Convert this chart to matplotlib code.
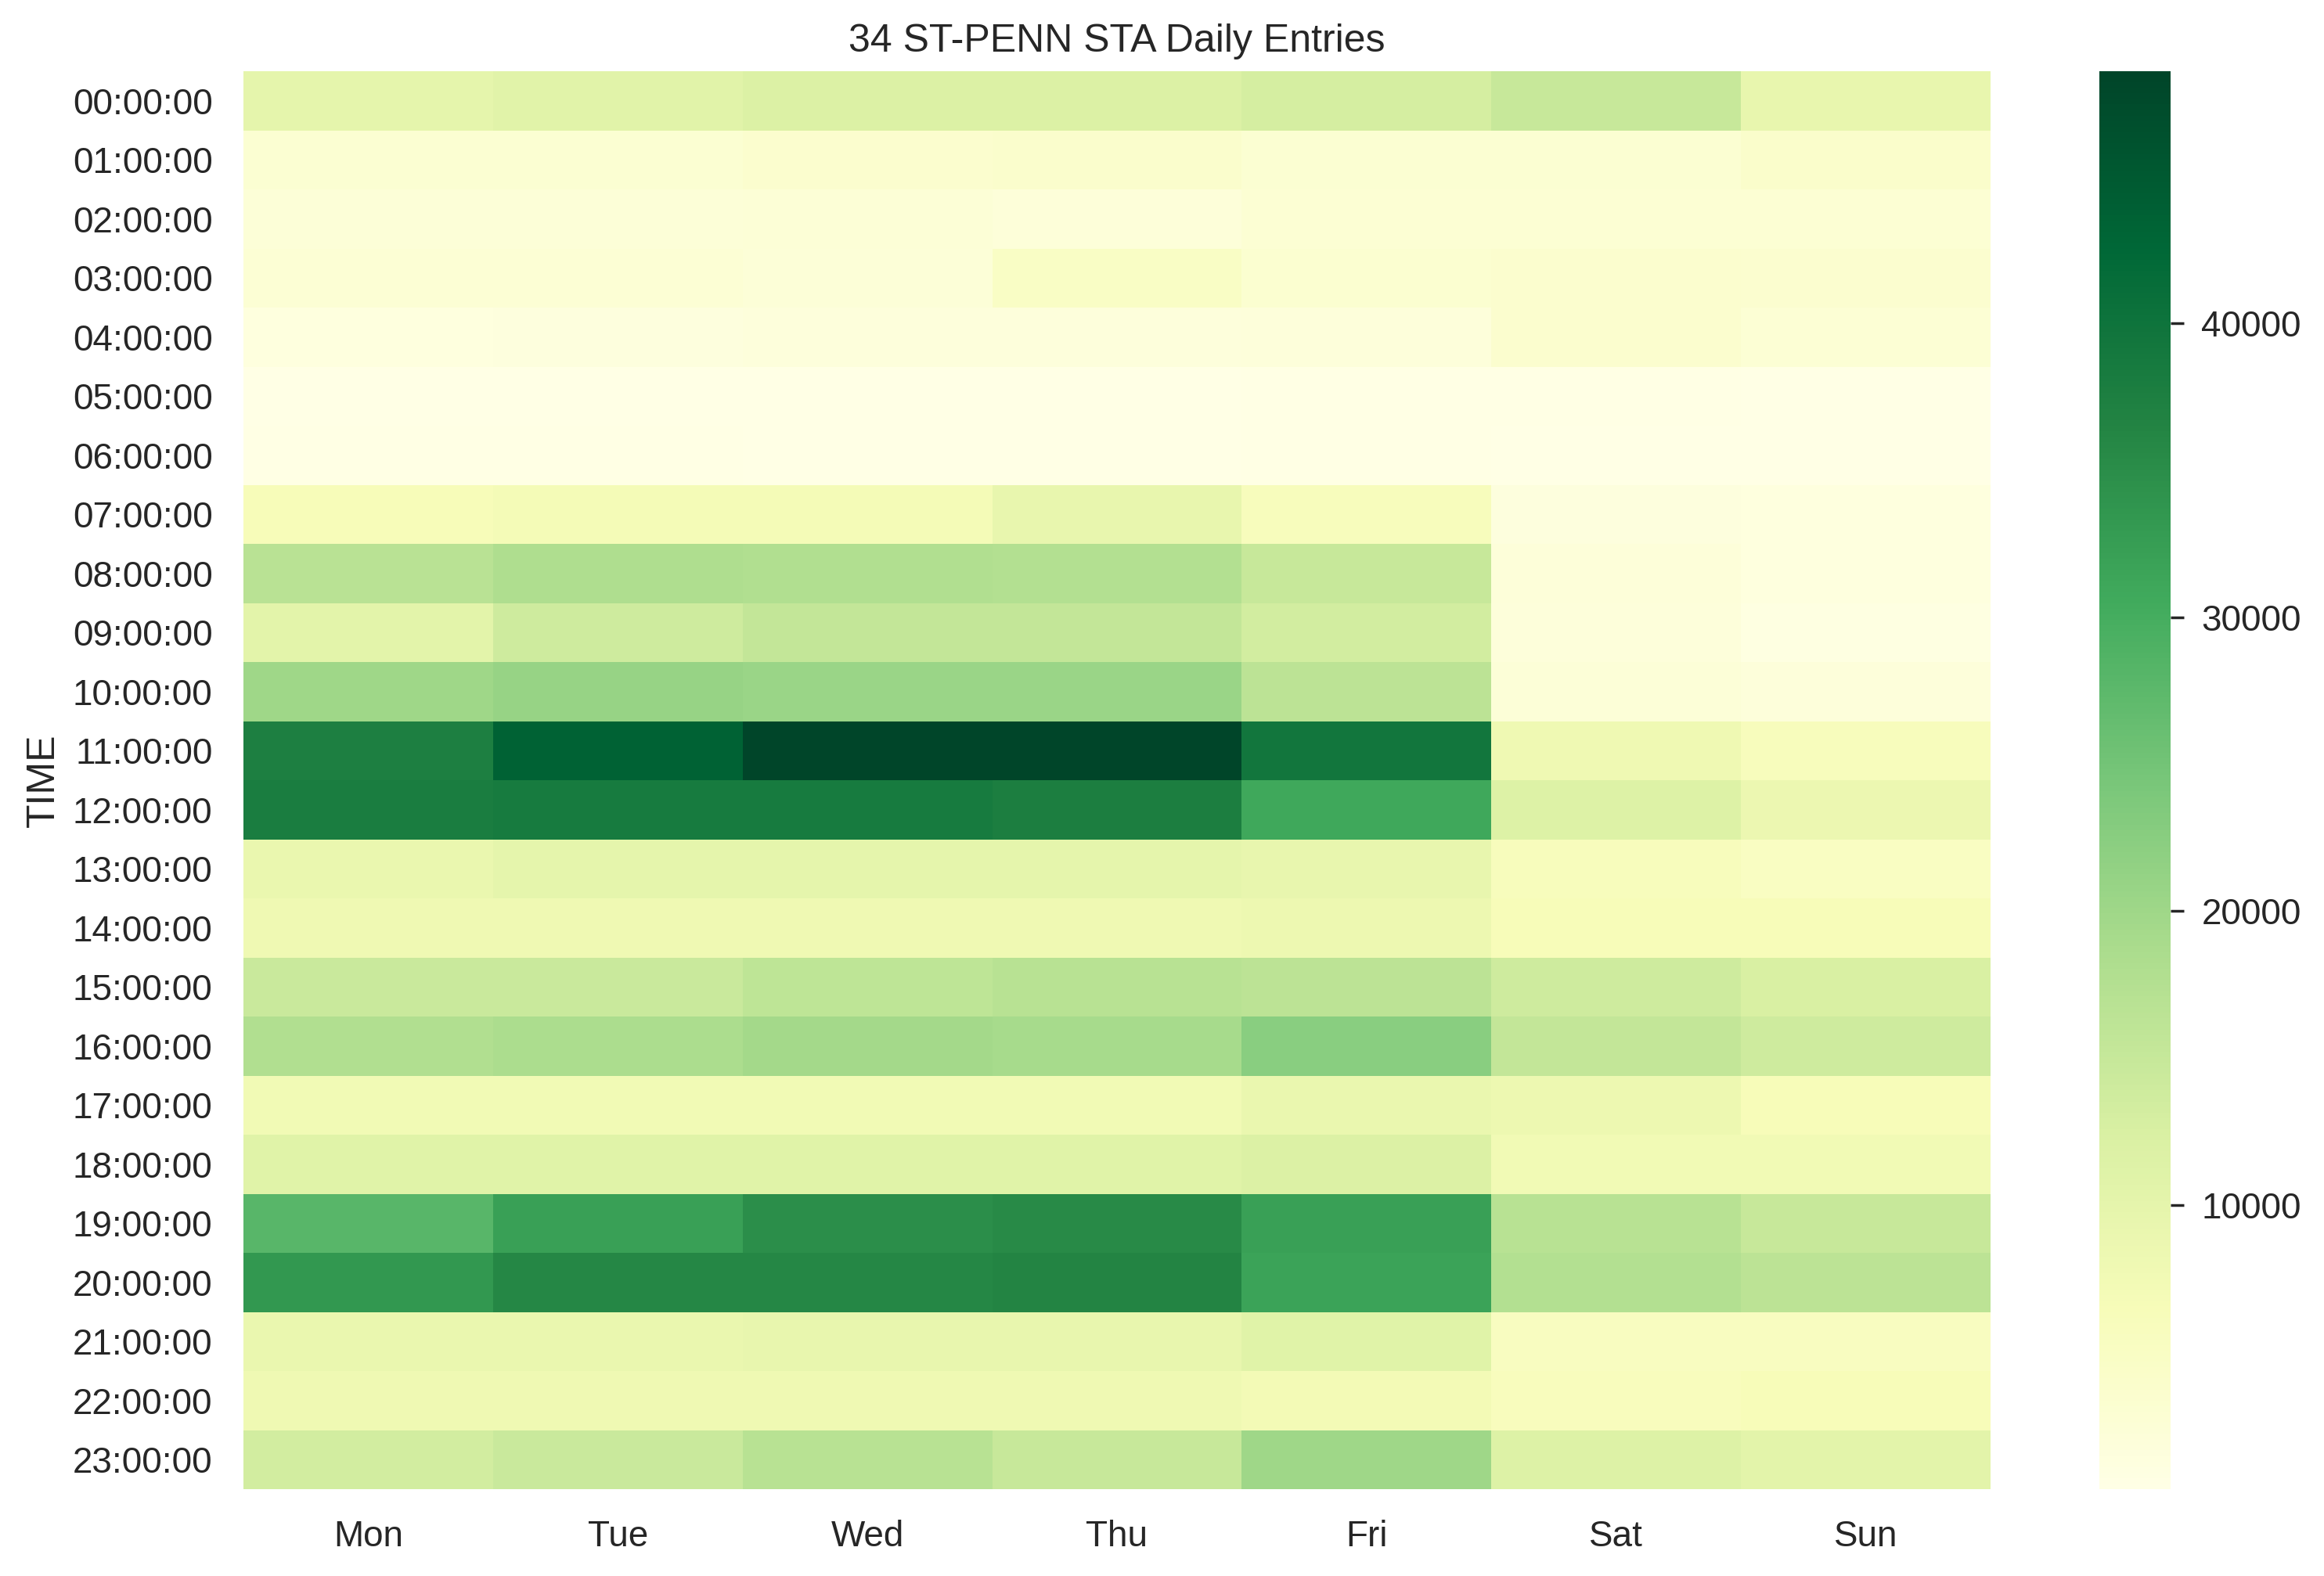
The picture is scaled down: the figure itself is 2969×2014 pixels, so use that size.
import numpy as np
import pandas as pd
import matplotlib
matplotlib.use("Agg")
import matplotlib.pyplot as plt
import seaborn as sns

days = ['Mon', 'Tue', 'Wed', 'Thu', 'Fri', 'Sat', 'Sun']
hours = ['%02d:00:00' % h for h in range(24)]

mon = [10000, 3000, 2300, 2700, 1300, 500, 600, 6500, 16800, 10500, 20000, 37500, 38000, 9000, 8000, 14500, 18000, 7500, 11000, 28000, 33500, 9000, 8000, 13500]
tue = [10800, 3000, 2300, 2600, 1500, 500, 600, 7000, 18200, 14000, 21000, 43500, 38500, 10000, 8000, 14500, 18500, 7500, 11000, 32000, 36000, 9000, 8000, 14500]
wed = [12000, 3700, 2500, 2400, 1700, 400, 500, 7000, 18000, 15500, 20500, 48580, 38500, 10000, 8000, 16000, 19500, 7500, 11000, 35000, 36000, 9500, 8000, 17000]
thu = [12000, 3900, 2100, 4800, 1700, 400, 500, 9500, 17500, 15500, 20500, 48500, 37800, 10000, 8000, 17000, 19000, 7500, 11000, 35500, 36500, 9500, 8000, 15000]
fri = [13000, 3000, 2800, 3300, 2000, 600, 700, 6000, 15000, 13500, 16500, 39500, 31000, 9500, 8500, 16500, 22500, 9000, 12000, 32000, 31800, 11000, 7300, 20000]
sat = [15000, 3000, 2800, 3700, 3600, 600, 500, 1500, 2200, 2000, 2400, 8000, 11500, 6000, 6500, 14000, 15500, 8500, 7500, 17000, 17500, 5500, 5800, 11500]
sun = [9500, 4000, 2900, 3400, 2700, 500, 330, 1300, 1300, 1000, 2000, 6000, 8800, 5200, 6500, 12500, 14000, 6500, 7500, 15000, 16500, 5500, 6500, 10500]

df = pd.DataFrame(dict(zip(days, [mon, tue, wed, thu, fri, sat, sun])), index=hours)

sns.set_theme(font='Liberation Sans', font_scale=1.5)
W, H = 2969, 2014
fig = plt.figure(figsize=(W / 200, H / 200), dpi=200)
ax = fig.add_axes([311 / W, 1 - 1903 / H, (2543 - 311) / W, (1903 - 91) / H])
cax = fig.add_axes([2682 / W, 1 - 1903 / H, (2773 - 2682) / W, (1903 - 91) / H])

sns.heatmap(df, cmap='YlGn', ax=ax, cbar_ax=cax)
ax.set_title('34 ST-PENN STA Daily Entries', pad=9)
ax.set_ylabel('TIME', labelpad=5)
ax.set_xlabel('')
ax.tick_params(axis='y', labelrotation=0, pad=8.2)
ax.tick_params(axis='x', labelrotation=0, pad=8.2)
for label in ax.get_yticklabels():
    label.set_va('center_baseline')
cax.tick_params(right=True, color='#262626', pad=8.2)

fig.savefig('out.png', dpi=200)
